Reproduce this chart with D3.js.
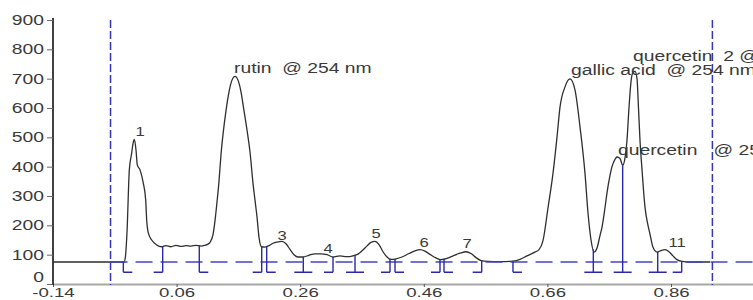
<!DOCTYPE html>
<html>
<head>
<meta charset="utf-8">
<script src="https://cdn.jsdelivr.net/npm/d3@7"></script>
<style>
  html, body { margin: 0; padding: 0; background: #fff; }
  svg { display: block; }
  text { font-family: "Liberation Sans", Arial, sans-serif; white-space: pre; }
</style>
</head>
<body>
<svg id="chart" width="753" height="300"></svg>
<script>
// ---------------- data ----------------
const traceTime = [
  -0.1400, -0.0251, -0.0227, -0.0203, -0.0165, -0.0127, -0.0106, -0.0084, -0.0057, -0.0036,
   0.0008,  0.0061,  0.0100,  0.0116,  0.0142,  0.0197,  0.0278,  0.0359,  0.0428,  0.0509,
   0.0590,  0.0671,  0.0752,  0.0833,  0.0914,  0.0995,  0.1060,  0.1100,  0.1141,  0.1189,
   0.1221,  0.1254,  0.1286,  0.1318,  0.1351,  0.1399,  0.1448,  0.1496,  0.1545,  0.1594,
   0.1642,  0.1691,  0.1739,  0.1788,  0.1836,  0.1869,  0.1901,  0.1933,  0.1974,  0.2030,
   0.2095,  0.2160,  0.2225,  0.2306,  0.2370,  0.2435,  0.2500,  0.2564,  0.2645,  0.2742,
   0.2840,  0.2937,  0.3034,  0.3131,  0.3244,  0.3357,  0.3454,  0.3535,  0.3600,  0.3681,
   0.3746,  0.3810,  0.3875,  0.3940,  0.4005,  0.4069,  0.4150,  0.4247,  0.4361,  0.4458,
   0.4539,  0.4619,  0.4700,  0.4797,  0.4878,  0.4975,  0.5073,  0.5186,  0.5283,  0.5364,
   0.5445,  0.5526,  0.5639,  0.5833,  0.6043,  0.6157,  0.6270,  0.6383,  0.6464,  0.6529,
   0.6610,  0.6691,  0.6755,  0.6804,  0.6885,  0.6966,  0.7047,  0.7128,  0.7208,  0.7257,
   0.7306,  0.7354,  0.7403,  0.7451,  0.7484,  0.7532,  0.7564,  0.7613,  0.7645,  0.7694,
   0.7726,  0.7775,  0.7818,  0.7856,  0.7888,  0.7920,  0.7953,  0.7985,  0.8018,  0.8050,
   0.8074,  0.8098,  0.8131,  0.8179,  0.8228,  0.8260,  0.8309,  0.8373,  0.8438,  0.8503,
   0.8568,  0.8632,  0.8697,  0.8778,  0.8907,  0.9231
];
const traceValue = [
    75,   75,   95,  174,  389,  446,  478,  493,  457,  406,
   389,  344,  286,  218,  174,  150,  133,  127,  131,  127,
   132,  128,  131,  129,  132,  129,  132,  135,  142,  168,
   215,  280,  350,  440,  510,  590,  655,  695,  708,  695,
   655,  590,  525,  450,  344,  285,  229,  160,  127,  126,
   131,  139,  143,  145,  137,  118,  100,   92,   92,   98,
   103,  103,  100,   92,   96,   93,   96,  102,  113,  130,
   142,  145,  134,  110,   92,   84,   86,   92,  104,  113,
   117,  112,  101,   89,   83,   87,   96,  105,  110,  104,
    90,   80,   77,   76,   78,   84,   96,  107,  117,  148,
   260,  378,  500,  603,  672,  699,  661,  535,  378,  242,
   150,  109,  123,  165,  194,  260,  310,  370,  400,  425,
   433,  428,  405,  430,  491,  600,  690,  722,  725,  700,
   600,  491,  390,  262,  200,  170,  125,  109,  114,  117,
   110,   96,   83,   77,   75,   75
];

// integration marks: time and foot side (L = end of peak, R = start, B = both)
const markTime = [-0.0262, 0.0375, 0.0967, 0.1977, 0.2058, 0.2650, 0.3131, 0.3487, 0.4053,
                   0.4134, 0.4862, 0.4927, 0.5537, 0.6043, 0.7343, 0.7818, 0.8385, 0.8773];
const markSide = ["R", "L", "R", "L", "R", "B", "L", "B", "L",
                  "R", "L", "R", "L", "R", "B", "B", "B", "L"];
const markBottom = 40;

const baselineValue = 75;
const cursorTimes = [-0.0469, 0.9270];

const peakNames  = ["1", "3", "4", "5", "6", "7", "11"];
const peakNameT  = [0.0008, 0.2306, 0.3050, 0.3827, 0.4603, 0.5299, 0.8697];
const peakNameV  = [505, 150, 106, 157, 126, 123, 126];

const compNames = ["rutin  @ 254 nm", "gallic acid  @ 254 nm", "quercetin  2 @ 254 nm", "quercetin   @ 254 nm"];
const compT     = [0.1529, 0.6982, 0.7985, 0.7742];
const compV     = [719, 712, 760, 440];

const yTickValues = [0, 100, 200, 300, 400, 500, 600, 700, 800, 900];
const xTickValues = [-0.14, 0.06, 0.26, 0.46, 0.66, 0.86];

// ---------------- drawing ----------------
const svg = d3.select("#chart");
const W = 753;
const x = d3.scaleLinear().domain([-0.14, -0.14 + 700 / 618]).range([53, 753]);
const y = d3.scaleLinear().domain([0, 900]).range([284, 20]);
const SX = 1.38;
const textColor = "#3a3a3a";
const blue = "#2a2aa8";

// x axis
const xAxis = svg.append("g").attr("transform", `translate(0,${y(0)})`)
  .call(d3.axisBottom(x).tickValues(xTickValues).tickSize(3).tickSizeOuter(0)
        .tickFormat(d => d.toFixed(2)));
xAxis.select(".domain").attr("stroke", "#a8a8a8").attr("stroke-width", 2);
xAxis.selectAll(".tick line").attr("stroke", "#555");
xAxis.selectAll(".tick text")
  .attr("y", 13).attr("dy", 0)
  .attr("transform", `scale(${SX},1)`)
  .attr("fill", textColor).style("font-size", "13.5px");

// y axis
const yAxis = svg.append("g").attr("transform", `translate(${x(-0.14)},0)`)
  .call(d3.axisLeft(y).tickValues(yTickValues).tickSize(6).tickSizeOuter(0));
yAxis.select(".domain").attr("stroke", "#111").attr("stroke-width", 1.6)
  .attr("d", `M0,${y(0) + 1}V${y(900) - 2}`);
yAxis.selectAll(".tick line").attr("stroke", "#666");
yAxis.selectAll(".tick text")
  .attr("x", -9 / SX)
  .attr("transform", `scale(${SX},1)`)
  .attr("fill", textColor).style("font-size", "14px")
  .attr("y", d => d === 0 ? -7 : 0);

// trace
const pts = traceTime.map((t, i) => [t, traceValue[i]]);
const line = d3.line().x(d => x(d[0])).y(d => y(d[1])).curve(d3.curveMonotoneX);
svg.append("path").datum(pts)
  .attr("d", line).attr("fill", "none")
  .attr("stroke", "#2e2e2e").attr("stroke-width", 1.3);

// interpolate trace value at time t (for mark starting point)
function traceAt(t) {
  const i = d3.bisectLeft(traceTime, t);
  if (i <= 0) return traceValue[0];
  if (i >= traceTime.length) return traceValue[traceTime.length - 1];
  const t0 = traceTime[i - 1], t1 = traceTime[i];
  const f = (t - t0) / (t1 - t0);
  return traceValue[i - 1] + f * (traceValue[i] - traceValue[i - 1]);
}

// baseline dashed
svg.append("line")
  .attr("x1", x(cursorTimes[0])).attr("x2", W)
  .attr("y1", y(baselineValue)).attr("y2", y(baselineValue))
  .attr("stroke", "#4444c4").attr("stroke-width", 1.3)
  .attr("stroke-dasharray", "17,8");

// integration marks
const foot = 9;
const marks = svg.append("g").attr("stroke", blue).attr("stroke-width", 1.4).attr("fill", "none");
markTime.forEach((t, i) => {
  const px = x(t);
  const top = y(traceAt(t));
  const bot = y(markBottom);
  const side = markSide[i];
  let d = `M${px},${top}V${bot}`;
  if (side === "L" || side === "B") d += `M${px},${bot}H${px - foot}`;
  if (side === "R" || side === "B") d += `M${px},${bot}H${px + foot}`;
  marks.append("path").attr("d", d);
});

// vertical cursors
cursorTimes.forEach(t => {
  svg.append("line")
    .attr("x1", x(t)).attr("x2", x(t))
    .attr("y1", y(900)).attr("y2", y(0) + 1)
    .attr("stroke", "#3535b5").attr("stroke-width", 1.5)
    .attr("stroke-dasharray", "8,3");
});

// peak number labels
peakNames.forEach((n, i) => {
  svg.append("text")
    .attr("transform", `translate(${x(peakNameT[i])},${y(peakNameV[i])}) scale(${SX},1)`)
    .attr("text-anchor", "middle")
    .attr("fill", textColor).style("font-size", "12px")
    .text(n);
});

// compound labels
compNames.forEach((n, i) => {
  svg.append("text")
    .attr("transform", `translate(${x(compT[i])},${y(compV[i])}) scale(${SX},1)`)
    .attr("text-anchor", "start")
    .attr("fill", textColor).style("font-size", "14px")
    .text(n);
});
</script>
</body>
</html>
